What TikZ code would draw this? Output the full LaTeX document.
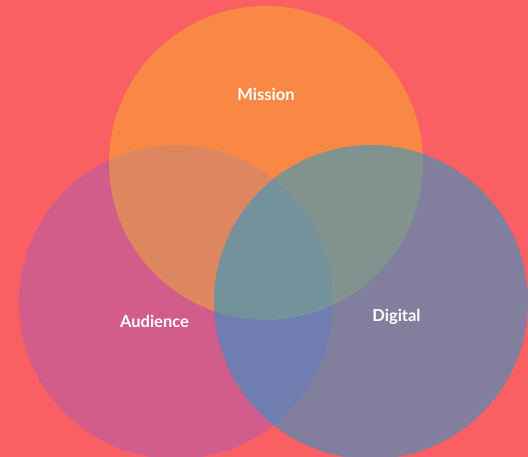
\documentclass[tikz,border=0pt]{standalone}
\usepackage{fontspec}
\setmainfont{Lato}

\definecolor{coral}{RGB}{249,95,99}
\definecolor{audiencepink}{RGB}{173,91,177}
\definecolor{missionyellow}{RGB}{249,232,0}
\definecolor{digitalblue}{RGB}{13,159,217}

\begin{document}
\begin{tikzpicture}[
        x = 1pt, y = -1pt,
        venn/.style = {circle, inner sep = 0pt, minimum size = 314pt, fill opacity = #1},
        tag/.style  = {text = white, anchor = base, font = \bfseries\fontsize{16.5}{20}\selectfont}
    ]

    % background
    \fill[coral] (0,0) rectangle (528,457);
    \useasboundingbox (0,0) rectangle (528,457);

    % the three sets, bottom to top
    \node[venn = 0.5, fill = audiencepink]  (audience) at (176,302) {};
    \node[venn = 0.3, fill = missionyellow] (mission)  at (266,163) {};
    \node[venn = 0.5, fill = digitalblue]   (digital)  at (371,302) {};

    \node[tag] (missiontag)  at (266,101) {Mission};
    \node[tag] (audiencetag) at (154.5,328) {Audience};
    \node[tag] (digitaltag)  at (396.5,322) {Digital};

\end{tikzpicture}
\end{document}
